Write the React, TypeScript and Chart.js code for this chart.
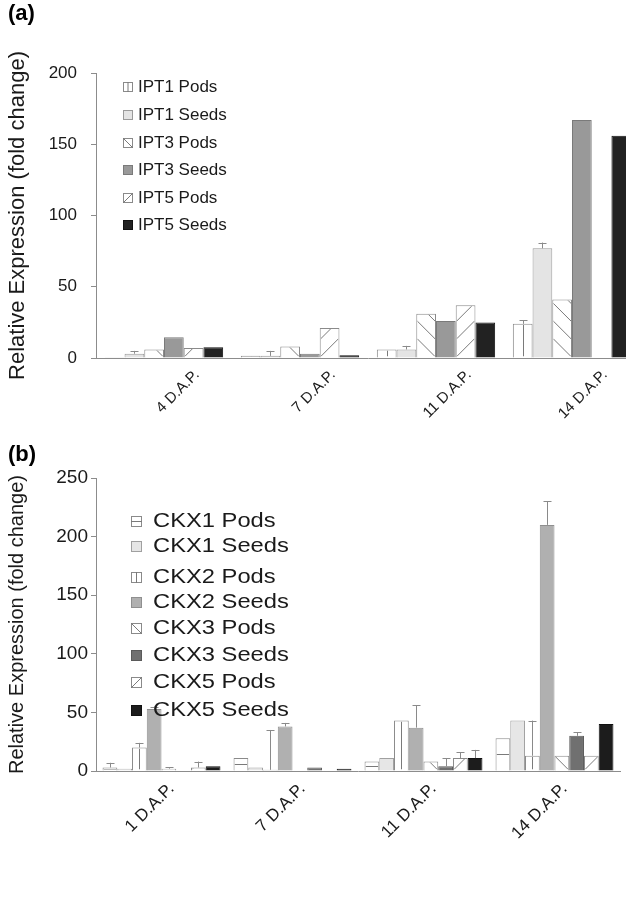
import React, { useEffect, useRef } from 'react';
import { Chart, registerables } from 'chart.js';
Chart.register(...registerables);

// ---------- Panel (a) data ----------
const catsA = ['4 D.A.P.', '7 D.A.P.', '11 D.A.P.', '14 D.A.P.'];
const ipt1Pods = [0.5, 1.5, 6, 24];
const ipt1PodsErr = [0, 0, 0, 2.5];
const ipt1Seeds = [3, 1.5, 6, 77];
const ipt1SeedsErr = [2, 3.5, 2.5, 4];
const ipt3Pods = [6, 8, 31, 41];
const ipt3Seeds = [14.5, 3, 26, 167];
const ipt5Pods = [7, 21, 37, 0];
const ipt5Seeds = [7.5, 2, 25, 156];
const ticksA = [0, 50, 100, 150, 200];

// ---------- Panel (b) data ----------
const catsB = ['1 D.A.P.', '7 D.A.P.', '11 D.A.P.', '14 D.A.P.'];
const ckx1Pods = [3, 11, 8, 28];
const ckx1PodsErr = [4, 0, 0, 0];
const ckx1Seeds = [2, 3, 11, 43];
const ckx2Pods = [20, 1, 43, 13];
const ckx2PodsErr = [4, 34, 0, 30];
const ckx2Seeds = [53, 38, 37, 210];
const ckx2SeedsErr = [2, 3, 19, 20];
const ckx3Pods = [2, 0.5, 8, 13];
const ckx3PodsErr = [1, 0, 0, 0];
const ckx3Seeds = [0.5, 3, 4, 30];
const ckx3SeedsErr = [0, 0, 7, 3];
const ckx5Pods = [3, 0.5, 11, 13];
const ckx5PodsErr = [5, 0, 5, 0];
const ckx5Seeds = [4, 2, 11, 40];
const ckx5SeedsErr = [0, 0, 7, 0];
const ticksB = [0, 50, 100, 150, 200, 250];

const FONT = '"Liberation Sans", Arial, sans-serif';
const AXIS = '#8c8c8c';
const HATCH = '#7a7a7a';
const TEXT = '#1a1a1a';

type Series = { label: string; data: number[]; err?: number[]; fill: string; border: string; hatch?: string };

const seriesA: Series[] = [
  { label: 'IPT1 Pods', data: ipt1Pods, err: ipt1PodsErr, fill: '#ffffff', border: '#8a8a8a', hatch: 'v' },
  { label: 'IPT1 Seeds', data: ipt1Seeds, err: ipt1SeedsErr, fill: '#e4e4e4', border: '#9a9a9a' },
  { label: 'IPT3 Pods', data: ipt3Pods, fill: '#ffffff', border: '#8a8a8a', hatch: 'b' },
  { label: 'IPT3 Seeds', data: ipt3Seeds, fill: '#999999', border: '#7a7a7a' },
  { label: 'IPT5 Pods', data: ipt5Pods, fill: '#ffffff', border: '#8a8a8a', hatch: 'f' },
  { label: 'IPT5 Seeds', data: ipt5Seeds, fill: '#222222', border: '#111111' },
];

const seriesB: Series[] = [
  { label: 'CKX1 Pods', data: ckx1Pods, err: ckx1PodsErr, fill: '#ffffff', border: '#8a8a8a', hatch: 'h' },
  { label: 'CKX1 Seeds', data: ckx1Seeds, fill: '#e6e6e6', border: '#a0a0a0' },
  { label: 'CKX2 Pods', data: ckx2Pods, err: ckx2PodsErr, fill: '#ffffff', border: '#8a8a8a', hatch: 'v' },
  { label: 'CKX2 Seeds', data: ckx2Seeds, err: ckx2SeedsErr, fill: '#b0b0b0', border: '#8f8f8f' },
  { label: 'CKX3 Pods', data: ckx3Pods, err: ckx3PodsErr, fill: '#ffffff', border: '#8a8a8a', hatch: 'b' },
  { label: 'CKX3 Seeds', data: ckx3Seeds, err: ckx3SeedsErr, fill: '#707070', border: '#5a5a5a' },
  { label: 'CKX5 Pods', data: ckx5Pods, err: ckx5PodsErr, fill: '#ffffff', border: '#8a8a8a', hatch: 'f' },
  { label: 'CKX5 Seeds', data: ckx5Seeds, err: ckx5SeedsErr, fill: '#1c1c1c', border: '#111111' },
];

function drawHatch(ctx: CanvasRenderingContext2D, kind: string | undefined, x0: number, x1: number, top: number, bot: number) {
  if (!kind) return;
  const w = x1 - x0;
  ctx.save();
  ctx.beginPath();
  ctx.rect(x0, top, w, bot - top);
  ctx.clip();
  ctx.strokeStyle = HATCH;
  ctx.lineWidth = 1;
  ctx.beginPath();
  const xm = (x0 + x1) / 2;
  const ym = (top + bot) / 2;
  if (kind === 'v') {
    ctx.moveTo(Math.round(xm) + 0.5, top);
    ctx.lineTo(Math.round(xm) + 0.5, bot);
  } else if (kind === 'h') {
    ctx.moveTo(x0, Math.round(ym) + 0.5);
    ctx.lineTo(x1, Math.round(ym) + 0.5);
  } else if (kind === 'b') {
    for (let yb = bot; yb > top - 1; yb -= w) {
      ctx.moveTo(x0, yb - w);
      ctx.lineTo(x1, yb);
    }
  } else if (kind === 'f') {
    for (let yb = bot; yb > top - 1; yb -= w) {
      ctx.moveTo(x0, yb);
      ctx.lineTo(x1, yb - w);
    }
  }
  ctx.stroke();
  ctx.restore();
}

const barExtrasPlugin = {
  id: 'barExtras',
  afterDatasetsDraw(chart: any, _args: any, opts: any) {
    const ctx: CanvasRenderingContext2D = chart.ctx;
    const yScale = chart.scales.y;
    const series: Series[] = opts.series;
    series.forEach((s, i) => {
      const meta = chart.getDatasetMeta(i);
      meta.data.forEach((bar: any, j: number) => {
        const p = bar.getProps(['x', 'y', 'base', 'width'], true);
        const x0 = p.x - p.width / 2;
        const x1 = p.x + p.width / 2;
        const top = Math.min(p.y, p.base);
        const bot = Math.max(p.y, p.base);
        if (bot - top > 1) drawHatch(ctx, s.hatch, x0 + 1, x1 - 1, top + 1, bot - 1);
        const e = s.err ? s.err[j] : 0;
        if (e) {
          const ye = yScale.getPixelForValue(s.data[j] + e);
          const xc = Math.round(p.x) + 0.5;
          ctx.save();
          ctx.strokeStyle = '#8a8a8a';
          ctx.lineWidth = 1;
          ctx.beginPath();
          ctx.moveTo(xc, top);
          ctx.lineTo(xc, ye);
          ctx.moveTo(xc - opts.cap, Math.round(ye) + 0.5);
          ctx.lineTo(xc + opts.cap, Math.round(ye) + 0.5);
          ctx.stroke();
          ctx.restore();
        }
      });
    });
  },
};

const legendPlugin = {
  id: 'boxLegend',
  afterDraw(chart: any, _args: any, opts: any) {
    const ctx: CanvasRenderingContext2D = chart.ctx;
    const series: Series[] = opts.series;
    const bs = opts.box;
    series.forEach((s, i) => {
      const yc = opts.rows[i];
      const bx = opts.boxX;
      const by = Math.round(yc - bs / 2);
      ctx.save();
      ctx.fillStyle = s.fill;
      ctx.fillRect(bx, by, bs, bs);
      ctx.strokeStyle = s.hatch ? '#8a8a8a' : s.border;
      ctx.lineWidth = 1;
      ctx.strokeRect(bx + 0.5, by + 0.5, bs - 1, bs - 1);
      ctx.restore();
      if (s.hatch) {
        ctx.save();
        ctx.strokeStyle = HATCH;
        ctx.lineWidth = 1;
        ctx.beginPath();
        if (s.hatch === 'v') { ctx.moveTo(bx + bs / 2, by); ctx.lineTo(bx + bs / 2, by + bs); }
        if (s.hatch === 'h') { ctx.moveTo(bx, by + bs / 2); ctx.lineTo(bx + bs, by + bs / 2); }
        if (s.hatch === 'b') { ctx.moveTo(bx, by); ctx.lineTo(bx + bs, by + bs); }
        if (s.hatch === 'f') { ctx.moveTo(bx, by + bs); ctx.lineTo(bx + bs, by); }
        ctx.stroke();
        ctx.restore();
      }
      ctx.save();
      ctx.fillStyle = TEXT;
      ctx.font = `${opts.fontSize}px ${FONT}`;
      ctx.textBaseline = 'middle';
      ctx.translate(opts.textX, yc);
      ctx.scale(opts.stretch, 1);
      ctx.fillText(s.label, 0, 0);
      ctx.restore();
    });
    // panel tag
    ctx.save();
    ctx.fillStyle = '#000';
    ctx.font = `bold ${opts.tagSize}px ${FONT}`;
    ctx.textBaseline = 'alphabetic';
    ctx.fillText(opts.tag, opts.tagX, opts.tagY);
    ctx.restore();
  },
};

function buildConfig(p: {
  cats: string[]; series: Series[]; ticks: number[]; max: number; left: number; right: number; top: number; xH: number;
  tickFont: number; tickPad: number; xFont: number; titleFont: number; catPct: number; labelOffset: number; xPad: number;
  legend: any; cap: number;
}) {
  return {
    type: 'bar' as const,
    data: {
      labels: p.cats,
      datasets: p.series.map((s) => ({
        label: s.label,
        data: s.data,
        backgroundColor: s.fill,
        borderColor: s.border,
        borderWidth: 1,
        categoryPercentage: p.catPct,
        barPercentage: 1,
      })),
    },
    options: {
      responsive: false,
      animation: false,
      devicePixelRatio: 1,
      layout: { padding: { left: 0, right: p.right, top: p.top, bottom: 0 } },
      plugins: {
        legend: { display: false },
        tooltip: { enabled: false },
        barExtras: { series: p.series, cap: p.cap },
        boxLegend: { ...p.legend, series: p.series },
      },
      scales: {
        x: {
          grid: { display: false, drawTicks: false },
          border: { display: true, color: AXIS },
          ticks: {
            color: TEXT,
            font: { family: FONT, size: p.xFont },
            maxRotation: 45,
            minRotation: 45,
            labelOffset: p.labelOffset,
            padding: p.xPad,
            autoSkip: false,
          },
          afterFit: (s: any) => { s.height = p.xH; },
        },
        y: {
          min: 0,
          max: p.max,
          afterBuildTicks: (s: any) => { s.ticks = p.ticks.map((v) => ({ value: v })); },
          ticks: { color: TEXT, font: { family: FONT, size: p.tickFont }, padding: p.tickPad },
          grid: { drawOnChartArea: false, drawTicks: true, tickLength: 5, color: AXIS },
          border: { display: true, color: AXIS },
          title: {
            display: true,
            text: 'Relative Expression (fold change)',
            color: TEXT,
            font: { family: FONT, size: p.titleFont },
            padding: { top: 5, bottom: 0 },
          },
          afterFit: (s: any) => { s.width = p.left; },
        },
      },
    },
    plugins: [barExtrasPlugin, legendPlugin],
  };
}

export default function App() {
  const refA = useRef<HTMLCanvasElement>(null);
  const refB = useRef<HTMLCanvasElement>(null);

  useEffect(() => {
    const cfgA = buildConfig({
      cats: catsA, series: seriesA, ticks: ticksA, max: 200,
      left: 96, right: 10, top: 73, xH: 72,
      tickFont: 17, tickPad: 14, xFont: 15, titleFont: 22, catPct: 0.87, labelOffset: 33, xPad: 8, cap: 4,
      legend: {
        boxX: 123, box: 10, textX: 138, rows: [87, 115, 143, 170, 198, 225],
        fontSize: 17, stretch: 1.0, tag: '(a)', tagX: 8, tagY: 20, tagSize: 22,
      },
    });
    const cfgB = buildConfig({
      cats: catsB, series: seriesB, ticks: ticksB, max: 250,
      left: 96, right: 6, top: 48, xH: 130,
      tickFont: 19, tickPad: 3, xFont: 17, titleFont: 20, catPct: 0.9, labelOffset: 10, xPad: 8, cap: 4,
      legend: {
        boxX: 131, box: 11, textX: 153, rows: [91, 116, 147, 172, 198, 225, 252, 280],
        fontSize: 21, stretch: 1.13, tag: '(b)', tagX: 8, tagY: 31, tagSize: 22,
      },
    });
    const a = new Chart(refA.current as HTMLCanvasElement, cfgA as any);
    const b = new Chart(refB.current as HTMLCanvasElement, cfgB as any);
    return () => { a.destroy(); b.destroy(); };
  }, []);

  return (
    <div style={{ position: 'fixed', left: 0, top: 0, width: 626, height: 901, overflow: 'hidden', background: '#fff' }}>
      <canvas ref={refA} width={650} height={430} style={{ position: 'absolute', left: 0, top: 0, width: 650, height: 430 }} />
      <canvas ref={refB} width={626} height={471} style={{ position: 'absolute', left: 0, top: 430, width: 626, height: 471 }} />
    </div>
  );
}
